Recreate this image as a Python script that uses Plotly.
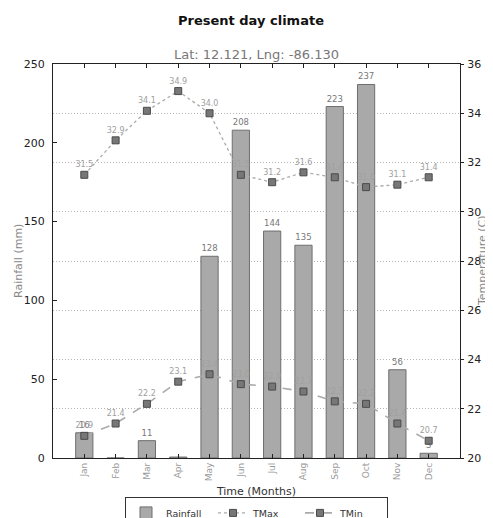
import plotly.graph_objects as go

months = ["Jan", "Feb", "Mar", "Apr", "May", "Jun", "Jul", "Aug", "Sep", "Oct", "Nov", "Dec"]
rainfall = [16, 0, 11, 0.6, 128, 208, 144, 135, 223, 237, 56, 3]
rain_labels = ["16", "", "11", "", "128", "208", "144", "135", "223", "237", "56", "3"]
tmax = [31.5, 32.9, 34.1, 34.9, 34.0, 31.5, 31.2, 31.6, 31.4, 31.0, 31.1, 31.4]
tmin = [20.9, 21.4, 22.2, 23.1, 23.4, 23.0, 22.9, 22.7, 22.3, 22.2, 21.4, 20.7]

x = list(range(len(months)))
FONT = "DejaVu Sans"

fig = go.Figure()
fig.add_trace(go.Bar(
    x=x, y=rainfall, name="Rainfall", width=0.55,
    marker=dict(color="#a9a9a9", line=dict(color="#6e6e6e", width=1)),
    text=rain_labels, textposition="outside", cliponaxis=False,
    textfont=dict(size=8.5, color="#777", family=FONT),
    yaxis="y",
))
fig.add_trace(go.Scatter(
    x=x, y=tmax, name="TMax", mode="lines+markers+text",
    line=dict(color="#aaaaaa", width=1.3, dash="dot"),
    marker=dict(symbol="square", size=7, color="#777777", line=dict(color="#4a4a4a", width=1)),
    text=[f"{v:.1f}" for v in tmax], textposition="top center",
    textfont=dict(size=8, color="#a0a0a0", family=FONT), cliponaxis=False,
    yaxis="y2",
))
fig.add_trace(go.Scatter(
    x=x, y=tmin, name="TMin", mode="lines+markers+text",
    line=dict(color="#aaaaaa", width=1.6, dash="dash"),
    marker=dict(symbol="square", size=7, color="#777777", line=dict(color="#4a4a4a", width=1)),
    text=[f"{v:.1f}" for v in tmin], textposition="top center",
    textfont=dict(size=8, color="#a0a0a0", family=FONT), cliponaxis=False,
    yaxis="y2",
))

# the page body has an 8px margin, so the figure is sized 485x510 to fill the window
fig.update_layout(
    width=485, height=510,
    margin=dict(l=45, r=33, t=56, b=60, autoexpand=False),
    paper_bgcolor="white", plot_bgcolor="white",
    font=dict(family=FONT, color="#222"),
    showlegend=True,
    legend=dict(orientation="h", x=0.5, xanchor="center", y=-0.1, yanchor="top",
                bordercolor="#333", borderwidth=1, font=dict(size=9.5, color="#333", family=FONT),
                bgcolor="white", itemwidth=30, entrywidth=42, entrywidthmode="pixels",
                tracegroupgap=0),
    xaxis=dict(
        range=[-1, 12], tickmode="array", tickvals=x, ticktext=months, tickangle=-90,
        tickfont=dict(size=9, color="#999"), showline=True, linecolor="#222", linewidth=1.3,
        mirror="ticks", ticks="inside", ticklen=4, tickcolor="#222", showgrid=False, zeroline=False,
        automargin=False,
        title=dict(text="Time (Months)", font=dict(size=11, color="#333"), standoff=6),
    ),
    yaxis=dict(
        range=[0, 250], dtick=50, tickfont=dict(size=11, color="#222"),
        showline=True, linecolor="#222", linewidth=1.3, ticks="inside", ticklen=4, tickcolor="#222",
        ticklabelstandoff=5, showgrid=False, zeroline=False, automargin=False,
    ),
    yaxis2=dict(
        range=[20, 36], dtick=2, overlaying="y", side="right",
        tickfont=dict(size=11, color="#222"), showline=True, linecolor="#222", linewidth=1.3,
        ticks="outside", ticklen=3, tickcolor="#222", ticklabelstandoff=1, automargin=False,
        showgrid=True, gridcolor="#b5b5b5", griddash="1px,2px", gridwidth=1, zeroline=False,
    ),
    annotations=[
        dict(text="<b>Present day climate</b>", x=0.5, xref="paper", y=1.0, yref="paper",
             yanchor="middle", yshift=44, xshift=-6, showarrow=False,
             font=dict(size=13, color="#111", family=FONT)),
        dict(text="Lat: 12.121, Lng: -86.130", x=0.5, xref="paper", y=1.0, yref="paper",
             yanchor="bottom", yshift=0, showarrow=False,
             font=dict(size=13, color="#777", family=FONT)),
        dict(text="Rainfall (mm)", x=0, xref="paper", y=0.5, yref="paper", textangle=-90,
             xanchor="center", yanchor="middle", xshift=-35, showarrow=False,
             font=dict(size=11, color="#888", family=FONT)),
        dict(text="Temperature (C)", x=1, xref="paper", y=0.5, yref="paper", textangle=-90,
             xanchor="center", yanchor="middle", xshift=22, showarrow=False,
             font=dict(size=11, color="#888", family=FONT)),
    ],
)

fig.write_html("out.html")
